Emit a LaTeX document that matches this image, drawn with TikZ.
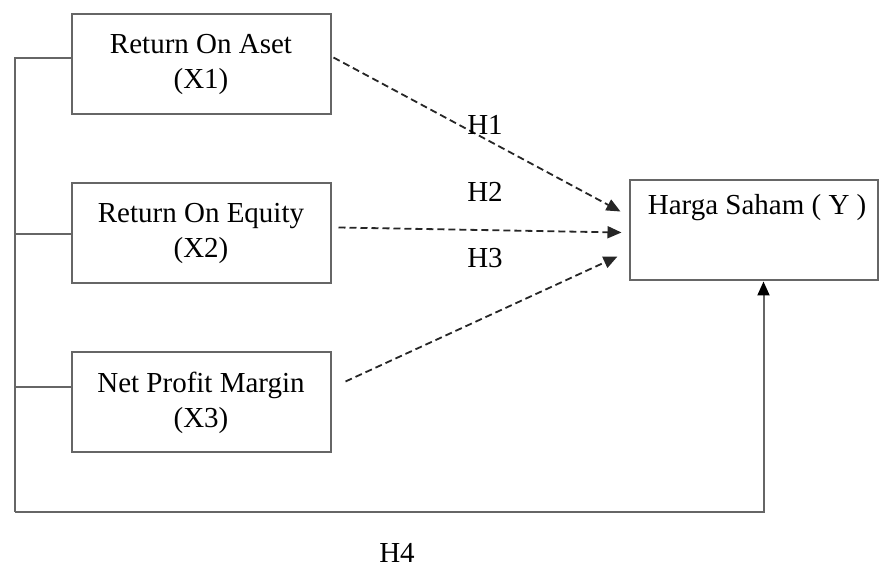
\documentclass[tikz,border=0pt]{standalone}
\usepackage{fontspec}
\setmainfont{Liberation Serif}
\usetikzlibrary{positioning,arrows.meta}

\tikzset{
  varbox/.style={draw=black!60, line width=1pt, minimum width=129.5pt,
    minimum height=50pt, align=center, font=\fontsize{14.5}{17.5}\selectfont},
  hyp/.style={draw=black!85, line width=0.9pt, dash pattern=on 3.5pt off 2pt,
    -{Triangle[length=7pt,width=6pt]}},
  link/.style={draw=black!60, line width=1pt},
  hlabel/.style={font=\fontsize{14.5}{17.5}\selectfont, inner sep=0pt}
}

\begin{document}
\begin{tikzpicture}[x=0.5pt, y=-0.5pt, node distance=33.5pt]
  \useasboundingbox (0,0) rectangle (880,567);
  % independent variables
  \node[varbox] (x1) at (201,64.5) {Return On Aset\\(X1)};
  \node[varbox, below=of x1] (x2) {Return On Equity\\(X2)};
  \node[varbox, below=of x2] (x3) {Net Profit Margin\\(X3)};
  % dependent variable
  \node[varbox, minimum width=124pt, right=148.5pt of x2, yshift=1.5pt] (y) {};
  \node[hlabel, anchor=base west] (ylab) at ([shift={(19,-16)}]y.west) {Harga Saham ( Y )};

  % hypotheses
  \draw[hyp] ([shift={(2,-7)}]x1.east) -- ([shift={(-8,-19)}]y.west);
  \draw[hyp] ([shift={(7,-6)}]x2.east) -- ([shift={(-7,2)}]y.west);
  \draw[hyp] ([shift={(14,-21)}]x3.east) -- ([shift={(-11,26)}]y.west);
  \node[hlabel] (h1) at (485,125) {H1};
  \node[hlabel] (h2) at (485,192) {H2};
  \node[hlabel] (h3) at (485,258) {H3};

  % simultaneous path
  \coordinate (bl) at (15,512);
  \coordinate (c2) at ([shift={(0,1)}]x2.west);
  \coordinate (c3) at ([shift={(0,-15)}]x3.west);
  \draw[link] ([shift={(0,-6)}]x1.west) -| (bl);
  \draw[link] (c2) -- (bl |- c2);
  \draw[link] (c3) -- (bl |- c3);
  \draw[link, -{Triangle[length=7pt,width=6pt,color=black]}] (bl) -| ([shift={(10,0)}]y.south);
  \node[hlabel] (h4) at (397,553) {H4};
\end{tikzpicture}
\end{document}
